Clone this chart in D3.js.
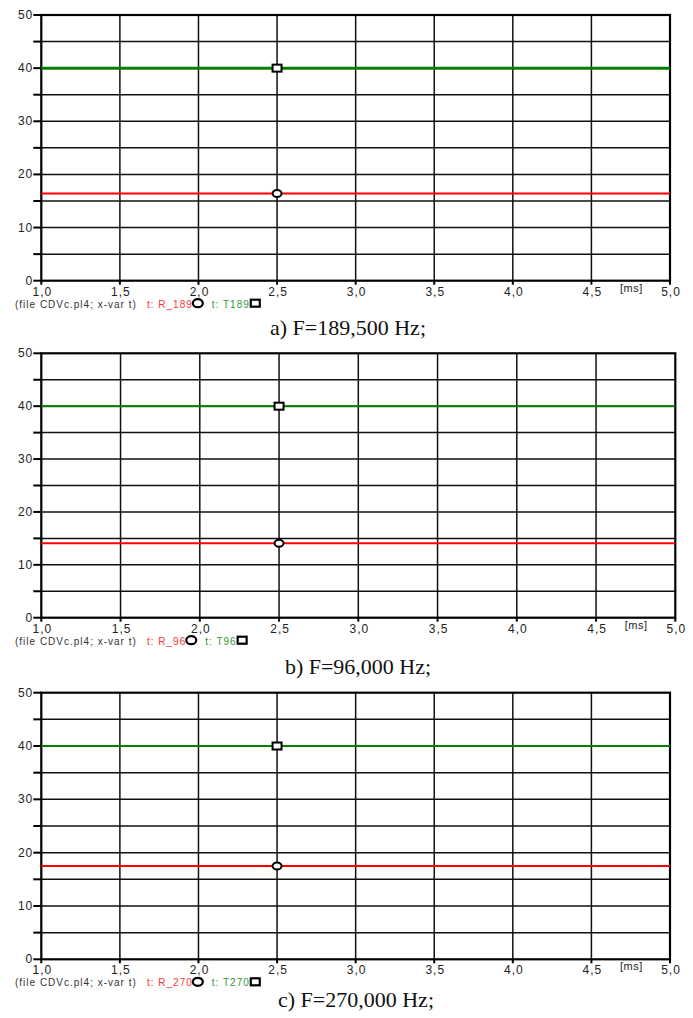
<!DOCTYPE html>
<html>
<head>
<meta charset="utf-8">
<script src="https://cdn.jsdelivr.net/npm/d3@7"></script>
<style>
  body { margin: 0; background: #fff; }
  svg { display: block; }
</style>
</head>
<body>
<div id="container"></div>
<script>
// data
var captions = ['a) F=189,500 Hz;', 'b) F=96,000 Hz;', 'c) F=270,000 Hz;'];
var redNames = ['R_189', 'R_96', 'R_270'];
var greenNames = ['T189', 'T96', 'T270'];
var redValues = [16.4, 14.1, 17.5];
var greenValues = [40, 40, 40];
var tSpan = [1.0, 5.0];
var markerT = 2.5;
var xTicks = [1.0, 1.5, 2.0, 2.5, 3.0, 3.5, 4.0, 4.5, 5.0];
var yTicks = [0, 10, 20, 30, 40, 50];
var yMinor = [5, 15, 25, 35, 45];
var fileLabel = '(file CDVc.pl4; x-var t)';

var width = 693,
    height = 1018;

// panel boxes (layout only)
var boxes = [
    { left: 41.3, right: 670, top: 15, bottom: 280.7, capX: 348, capY: 335, gw: 3 },
    { left: 41.3, right: 675.3, top: 353.3, bottom: 617.7, capX: 358, capY: 674, gw: 2 },
    { left: 41.3, right: 670, top: 692.7, bottom: 959.3, capX: 356, capY: 1007, gw: 2 }
];

var svg = d3.select('div#container')
    .append('svg')
    .attr('width', width)
    .attr('height', height);

var fmt = function(v) { return d3.format('.1f')(v).replace('.', ','); };
var tickFont = '12px "Liberation Sans", Arial, sans-serif';

boxes.forEach(function(b, i) {
    var x = d3.scaleLinear().domain([1, 5]).range([b.left, b.right]),
        y = d3.scaleLinear().domain([0, 50]).range([b.bottom, b.top]);

    var g = svg.append('g');

    // grid
    g.selectAll('line.vg')
        .data(xTicks.slice(1, -1))
        .enter().append('line')
        .attr('x1', function(d) { return x(d); })
        .attr('x2', function(d) { return x(d); })
        .attr('y1', b.top).attr('y2', b.bottom)
        .attr('stroke', '#111').attr('stroke-width', 1.5);

    g.selectAll('line.hg')
        .data(yTicks.slice(1, -1).concat(yMinor))
        .enter().append('line')
        .attr('x1', b.left).attr('x2', b.right)
        .attr('y1', function(d) { return y(d); })
        .attr('y2', function(d) { return y(d); })
        .attr('stroke', '#111').attr('stroke-width', 1.5);

    // frame
    g.append('rect')
        .attr('x', b.left).attr('y', b.top)
        .attr('width', b.right - b.left).attr('height', b.bottom - b.top)
        .attr('fill', 'none').attr('stroke', '#000').attr('stroke-width', 2.2);

    // y axis ticks + labels
    g.selectAll('line.yt')
        .data(yTicks.concat(yMinor))
        .enter().append('line')
        .attr('x1', b.left - 8).attr('x2', b.left)
        .attr('y1', function(d) { return y(d); })
        .attr('y2', function(d) { return y(d); })
        .attr('stroke', '#000').attr('stroke-width', 2);

    g.selectAll('text.yl')
        .data(yTicks)
        .enter().append('text')
        .attr('x', b.left - 8)
        .attr('y', function(d) { return y(d) + 4; })
        .attr('text-anchor', 'end')
        .style('font', tickFont)
        .style('letter-spacing', '1px')
        .attr('fill', '#222')
        .text(function(d) { return d; });

    // x axis ticks + labels
    g.selectAll('line.xt')
        .data(xTicks)
        .enter().append('line')
        .attr('x1', function(d) { return x(d); })
        .attr('x2', function(d) { return x(d); })
        .attr('y1', b.bottom).attr('y2', b.bottom + 4)
        .attr('stroke', '#000').attr('stroke-width', 2);

    g.selectAll('text.xl')
        .data(xTicks)
        .enter().append('text')
        .attr('x', function(d) { return x(d) + 1; })
        .attr('y', b.bottom + 15)
        .attr('text-anchor', 'middle')
        .style('font', tickFont)
        .style('letter-spacing', '1px')
        .attr('fill', '#222')
        .text(fmt);

    g.append('text')
        .attr('x', x(4.5) + 40)
        .attr('y', b.bottom + 11)
        .attr('text-anchor', 'middle')
        .style('font', '11px "Liberation Sans", Arial, sans-serif')
        .style('letter-spacing', '0.5px')
        .attr('fill', '#222')
        .text('[ms]');

    // series
    var line = d3.line()
        .x(function(d) { return x(d[0]); })
        .y(function(d) { return y(d[1]); });

    g.append('path')
        .datum(tSpan.map(function(t) { return [t, greenValues[i]]; }))
        .attr('d', line)
        .attr('fill', 'none').attr('stroke', '#008000').attr('stroke-width', b.gw);

    g.append('path')
        .datum(tSpan.map(function(t) { return [t, redValues[i]]; }))
        .attr('d', line)
        .attr('fill', 'none').attr('stroke', '#ff0000').attr('stroke-width', 2);

    // markers on curves
    g.append('rect')
        .attr('x', x(markerT) - 4.5).attr('y', y(greenValues[i]) - 3.5)
        .attr('width', 9).attr('height', 7)
        .attr('fill', '#fff').attr('stroke', '#000').attr('stroke-width', 2);

    g.append('ellipse')
        .attr('cx', x(markerT)).attr('cy', y(redValues[i]))
        .attr('rx', 4.5).attr('ry', 3.5)
        .attr('fill', '#fff').attr('stroke', '#000').attr('stroke-width', 2);

    // legend row
    var ly = b.bottom + 27;
    var legFont = '10px "Liberation Sans", Arial, sans-serif';

    g.append('text')
        .attr('x', 15).attr('y', ly)
        .style('font', legFont).style('letter-spacing', '1px')
        .attr('fill', '#333')
        .text(fileLabel);

    var rt = g.append('text')
        .attr('x', 147).attr('y', ly)
        .style('font', legFont).style('letter-spacing', '1px')
        .attr('fill', '#ff3333')
        .text('t: ' + redNames[i]);
    var rEnd = 147 + rt.node().getComputedTextLength();

    g.append('ellipse')
        .attr('cx', rEnd + 5).attr('cy', ly - 4.5)
        .attr('rx', 5).attr('ry', 4)
        .attr('fill', '#fff').attr('stroke', '#000').attr('stroke-width', 2.2);

    var gx = rEnd + 19;
    var gt = g.append('text')
        .attr('x', gx).attr('y', ly)
        .style('font', legFont).style('letter-spacing', '1px')
        .attr('fill', '#339933')
        .text('t: ' + greenNames[i]);
    var gEnd = gx + gt.node().getComputedTextLength();

    g.append('rect')
        .attr('x', gEnd + 1).attr('y', ly - 8)
        .attr('width', 9).attr('height', 7)
        .attr('fill', '#fff').attr('stroke', '#000').attr('stroke-width', 2.2);

    // caption
    g.append('text')
        .attr('x', b.capX).attr('y', b.capY)
        .attr('text-anchor', 'middle')
        .style('font', '22px "Liberation Serif", "Times New Roman", serif')
        .attr('fill', '#111')
        .text(captions[i]);
});
</script>
</body>
</html>
